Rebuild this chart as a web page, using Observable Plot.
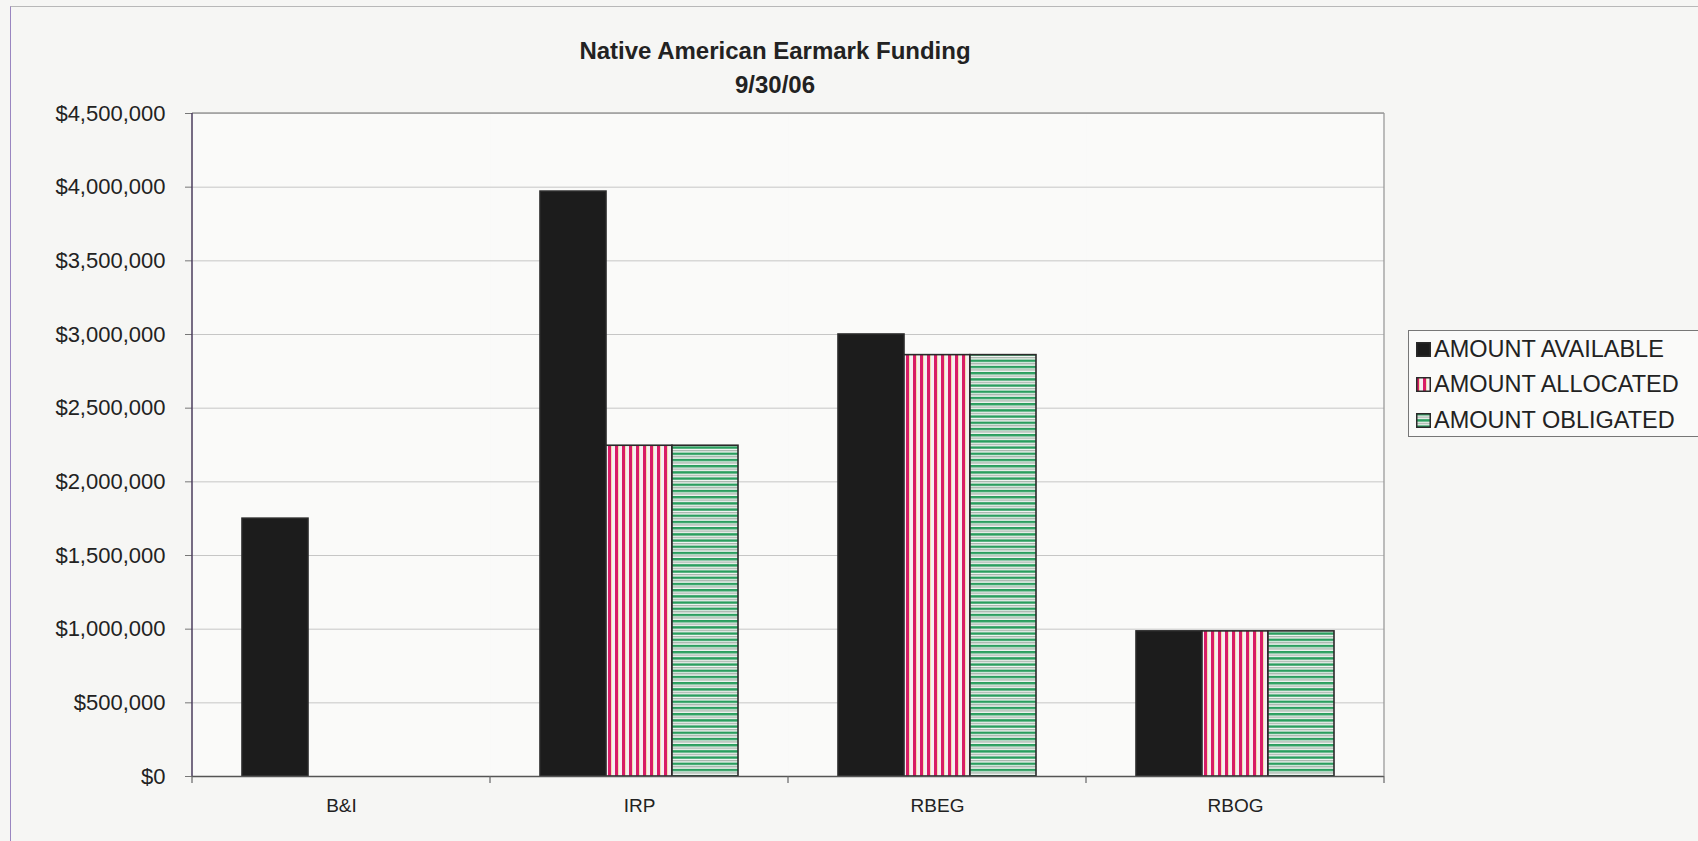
<!DOCTYPE html>
<html><head><meta charset="utf-8">
<script src="https://cdn.jsdelivr.net/npm/d3@7"></script>
<script src="https://cdn.jsdelivr.net/npm/@observablehq/plot@0.6"></script>
<style>
body{margin:0;background:#f6f6f4;font-family:"Liberation Sans",Arial,sans-serif;}
#wrap{position:relative;width:1698px;height:841px;overflow:hidden;}
#border{position:absolute;left:10px;top:6px;width:1700px;height:900px;border-left:1.5px solid #9a86c0;border-top:1px solid #b8b8b8;}
#chart{position:absolute;left:0;top:0;}
#title{position:absolute;left:475px;width:600px;top:34px;text-align:center;font-weight:bold;font-size:24px;line-height:34px;color:#222;}
#legend{position:absolute;left:1408px;top:330px;width:300px;height:107px;border:1px solid #777;background:#fafaf9;box-sizing:border-box;padding-top:1px;}
#legend .row{height:35.3px;line-height:35.3px;font-size:23.5px;color:#222;padding-left:7px;white-space:nowrap;display:flex;align-items:center;}
#legend svg{margin-right:3px;flex:none;}
</style></head>
<body><div id="wrap">
<svg width="0" height="0" style="position:absolute"><defs>
<pattern id="alloc" patternUnits="userSpaceOnUse" width="7" height="10">
<rect width="7" height="10" fill="#f6eef2"/><rect x="0" width="3" height="10" fill="#d81c66"/><rect x="3" width="0.8" height="10" fill="#e8c44a" opacity="0.5"/>
</pattern>
<pattern id="oblig" patternUnits="userSpaceOnUse" width="10" height="6.2">
<rect width="10" height="6.2" fill="#eef4f0"/><rect y="0" width="10" height="2.4" fill="#2a9e5e"/><rect y="3.8" width="10" height="0.9" fill="#8a9a90"/>
</pattern>
</defs></svg>
<div id="border"></div>
<div id="chart"></div>
<div id="title">Native American Earmark Funding<br>9/30/06</div>
<div id="legend"></div>
</div>
<script>
const categories = ["B&I", "IRP", "RBEG", "RBOG"];
const series = ["AMOUNT AVAILABLE", "AMOUNT ALLOCATED", "AMOUNT OBLIGATED"];
const available = [1750000, 3970000, 3000000, 985000];
const allocated = [0, 2245000, 2860000, 985000];
const obligated = [0, 2245000, 2860000, 985000];
const yTicks = [0, 500000, 1000000, 1500000, 2000000, 2500000, 3000000, 3500000, 4000000, 4500000];
const fills = ["#1c1c1c", "url(#alloc)", "url(#oblig)"];

const values = [available, allocated, obligated];
const rows = categories.flatMap((c, i) => series.map((s, j) => ({category: c, series: s, value: values[j][i]})));
const fmt = d => "$" + d3.format(",")(d);

const chart = Plot.plot({
  width: 1698, height: 841,
  marginLeft: 190, marginRight: 313, marginTop: 113, marginBottom: 65,
  style: {background: "transparent", fontFamily: "'Liberation Sans', Arial, sans-serif", color: "#222"},
  fx: {domain: categories, padding: 0, label: null},
  x: {domain: series, paddingInner: 0, paddingOuter: 0.73, axis: null},
  y: {domain: [0, 4500000], label: null},
  marks: [
    Plot.frame({fill: "#fafaf9", stroke: "none"}),
    Plot.gridY(yTicks, {stroke: "#c6c6c6", strokeOpacity: 1, strokeWidth: 1}),
    ...series.map((s, j) => Plot.barY(rows, {
      filter: d => d.series === s && d.value > 0,
      fx: "category", x: "series", y: "value",
      fill: fills[j], stroke: "#2a2a2a", strokeWidth: 1.6
    })),
    Plot.ruleY([0], {stroke: "#555", strokeWidth: 1.5}),
    Plot.axisY(yTicks, {tickFormat: fmt, tickSize: 7, tickPadding: 20, fontSize: 22, stroke: "#777", fill: "#222"}),
    Plot.axisFx({anchor: "bottom", tickSize: 0, tickPadding: 22, fontSize: 19, label: null, fill: "#222"})
  ]
});
document.getElementById("chart").append(chart);

// plot-area border lines and category boundary ticks, positioned from the library's scales
const svg = d3.select(chart);
const fx = chart.scale("fx"), y = chart.scale("y");
const bw = fx.bandwidth;
const left = fx.apply(categories[0]), right = fx.apply(categories[categories.length - 1]) + bw;
const yTop = y.apply(4500000), yBot = y.apply(0);
const g = svg.append("g");
g.append("line").attr("x1", left).attr("x2", right).attr("y1", yTop).attr("y2", yTop).attr("stroke", "#9a9a9a").attr("stroke-width", 1.3);
g.append("line").attr("x1", right).attr("x2", right).attr("y1", yTop).attr("y2", yBot).attr("stroke", "#9a9a9a").attr("stroke-width", 1.3);
g.append("line").attr("x1", left).attr("x2", left).attr("y1", yTop).attr("y2", yBot).attr("stroke", "#4b3d5e").attr("stroke-width", 1.5);
categories.forEach(c => {
  const x0 = fx.apply(c);
  g.append("line").attr("x1", x0).attr("x2", x0).attr("y1", yBot).attr("y2", yBot + 7).attr("stroke", "#666").attr("stroke-width", 1.2);
});
g.append("line").attr("x1", right).attr("x2", right).attr("y1", yBot).attr("y2", yBot + 7).attr("stroke", "#666").attr("stroke-width", 1.2);

// legend
const legend = d3.select("#legend");
series.forEach((s, j) => {
  const row = legend.append("div").attr("class", "row");
  const sw = row.append("svg").attr("width", 15).attr("height", 15);
  sw.append("rect").attr("x", 0.75).attr("y", 0.75).attr("width", 13.5).attr("height", 13.5)
    .attr("fill", fills[j]).attr("stroke", "#2a2a2a").attr("stroke-width", 1.5);
  row.append("span").text(s);
});
</script>
</body></html>
